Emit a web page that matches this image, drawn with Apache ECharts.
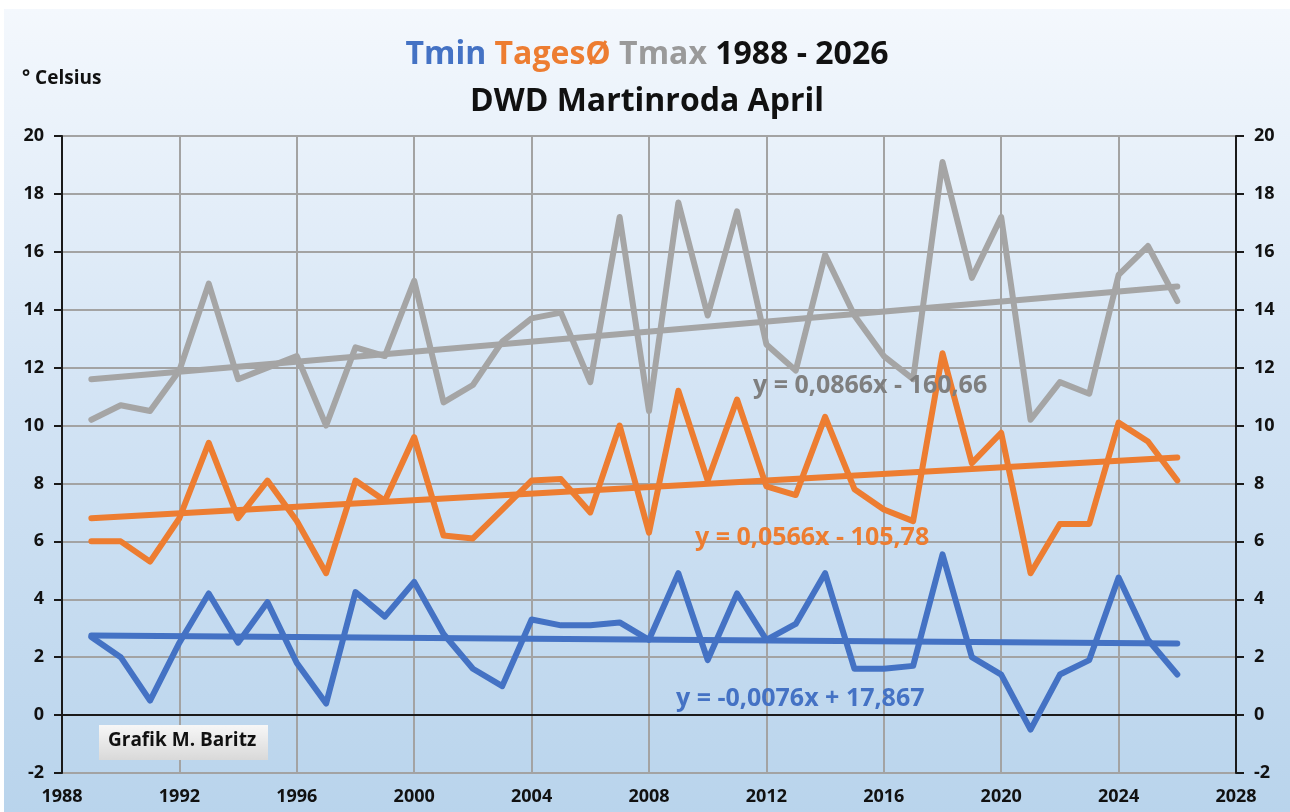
<!DOCTYPE html>
<html>
<head>
<meta charset="utf-8">
<script src="https://cdn.jsdelivr.net/npm/echarts@6/dist/echarts.min.js"></script>
<style>
  html, body { margin: 0; padding: 0; background: #ffffff; }
  #chart { position: absolute; left: 4px; top: 9px; width: 1286px; height: 803px; }
</style>
</head>
<body>
<div id="chart"></div>
<script>
// ---- data ----
const years = [1989,1990,1991,1992,1993,1994,1995,1996,1997,1998,1999,2000,2001,2002,2003,2004,2005,2006,2007,2008,2009,2010,2011,2012,2013,2014,2015,2016,2017,2018,2019,2020,2021,2022,2023,2024,2025,2026];
const tmax = [10.2,10.7,10.5,11.9,14.9,11.6,12.0,12.4,10.0,12.7,12.4,15.0,10.8,11.4,12.9,13.7,13.9,11.5,17.2,10.5,17.7,13.8,17.4,12.8,11.9,15.9,13.8,12.4,11.6,19.1,15.1,17.2,10.2,11.5,11.1,15.2,16.2,14.3];
const tmean = [6.0,6.0,5.3,6.8,9.4,6.8,8.1,6.7,4.9,8.1,7.4,9.6,6.2,6.1,7.1,8.1,8.15,7.0,10.0,6.3,11.2,8.1,10.9,7.9,7.6,10.3,7.8,7.1,6.7,12.5,8.7,9.75,4.9,6.6,6.6,10.1,9.45,8.1];
const tmin = [2.7,2.0,0.5,2.5,4.2,2.5,3.9,1.8,0.4,4.25,3.4,4.6,2.8,1.6,1.0,3.3,3.1,3.1,3.2,2.6,4.9,1.9,4.2,2.6,3.15,4.9,1.6,1.6,1.7,5.55,2.0,1.4,-0.5,1.4,1.9,4.75,2.6,1.4];
// trend line endpoints (first and last year)
const trendYears = [1989, 2026];
const tmaxTrend = [11.6, 14.8];
const tmeanTrend = [6.8, 8.9];
const tminTrend = [2.75, 2.47];
const eqTmax = 'y = 0,0866x - 160,66';
const eqTmean = 'y = 0,0566x - 105,78';
const eqTmin = 'y = -0,0076x + 17,867';
const xTicks = {min: 1988, max: 2028, interval: 4};
const yTicks = {min: -2, max: 20, interval: 2};

const C_MIN = '#4472c4', C_MEAN = '#ed7d31', C_MAX = '#a5a5a5';
const FONT = '"Open Sans", "Noto Sans", sans-serif';

function pairs(xs, ys) { return xs.map((x, i) => [x, ys[i]]); }

const chart = echarts.init(document.getElementById('chart'), null, {renderer: 'canvas'});

const lineSeries = (name, data, color, z) => ({
  name, type: 'line', data, showSymbol: false, symbol: 'none',
  lineStyle: {color, width: 6, cap: 'round', join: 'round'},
  itemStyle: {color}, z, animation: false
});

const yAxisCommon = {
  type: 'value', min: yTicks.min, max: yTicks.max, interval: yTicks.interval,
  axisLine: {show: true, lineStyle: {color: '#1a1a1a', width: 2}},
  axisTick: {show: true, length: 8, lineStyle: {color: '#1a1a1a', width: 2}},
  axisLabel: {color: '#111', fontFamily: FONT, fontWeight: 'bold', fontSize: 18, margin: 18}
};

const rs = {fontFamily: FONT, fontWeight: 'bold', fontSize: 32, lineHeight: 47};

chart.setOption({
  backgroundColor: new echarts.graphic.LinearGradient(0, 0, 0, 1, [
    {offset: 0, color: '#f4f8fd'},
    {offset: 0.5, color: '#d2e3f4'},
    {offset: 1, color: '#b9d4ec'}
  ]),
  animation: false,
  title: {
    left: 'center', top: 17,
    text: '{b|Tmin} {o|TagesØ} {g|Tmax} {k|1988 - 2026}\n{k|DWD Martinroda April}',
    textStyle: Object.assign({}, rs, {
      rich: {
        b: Object.assign({color: C_MIN}, rs),
        o: Object.assign({color: C_MEAN}, rs),
        g: Object.assign({color: '#9a9a9a'}, rs),
        k: Object.assign({color: '#111'}, rs)
      }
    })
  },
  grid: {left: 58, right: 54, top: 127, bottom: 39, show: true, borderColor: '#1a1a1a', borderWidth: 2, backgroundColor: 'transparent'},
  xAxis: {
    type: 'value', min: xTicks.min, max: xTicks.max, interval: xTicks.interval,
    axisLine: {show: true, lineStyle: {color: '#1a1a1a', width: 2}},
    axisTick: {show: false},
    splitLine: {show: true, lineStyle: {color: '#a3a3a3', width: 2}},
    axisLabel: {color: '#111', fontFamily: FONT, fontWeight: 'bold', fontSize: 18, margin: 15,
      formatter: v => String(v)}
  },
  yAxis: [
    Object.assign({}, yAxisCommon, {position: 'left', splitLine: {show: true, lineStyle: {color: '#a3a3a3', width: 2}}}),
    Object.assign({}, yAxisCommon, {position: 'right', splitLine: {show: false}})
  ],
  series: [
    lineSeries('Tmax', pairs(years, tmax), C_MAX, 3),
    lineSeries('Tmax Trend', pairs(trendYears, tmaxTrend), C_MAX, 3),
    lineSeries('TagesØ', pairs(years, tmean), C_MEAN, 4),
    lineSeries('TagesØ Trend', pairs(trendYears, tmeanTrend), C_MEAN, 4),
    lineSeries('Tmin', pairs(years, tmin), C_MIN, 5),
    lineSeries('Tmin Trend', pairs(trendYears, tminTrend), C_MIN, 5)
  ],
  graphic: [
    {type: 'text', left: 18, top: 60, z: 10, style: {text: '° Celsius', fill: '#111', font: 'bold 19px ' + FONT}},
    {type: 'text', left: 749, top: 364, z: 10, style: {text: eqTmax, fill: '#7f7f7f', font: 'bold 25px ' + FONT}},
    {type: 'text', left: 691, top: 516, z: 10, style: {text: eqTmean, fill: C_MEAN, font: 'bold 25px ' + FONT}},
    {type: 'text', left: 672, top: 677, z: 10, style: {text: eqTmin, fill: C_MIN, font: 'bold 25px ' + FONT}},
    {type: 'rect', left: 95, top: 716, z: 10, shape: {width: 169, height: 35},
      style: {fill: new echarts.graphic.LinearGradient(0, 0, 0, 1, [{offset: 0, color: '#f7f7f7'}, {offset: 1, color: '#d9d9d9'}])}},
    {type: 'text', left: 104, top: 722, z: 11, style: {text: 'Grafik M. Baritz', fill: '#111', font: 'bold 19px ' + FONT}}
  ]
});
</script>
</body>
</html>
